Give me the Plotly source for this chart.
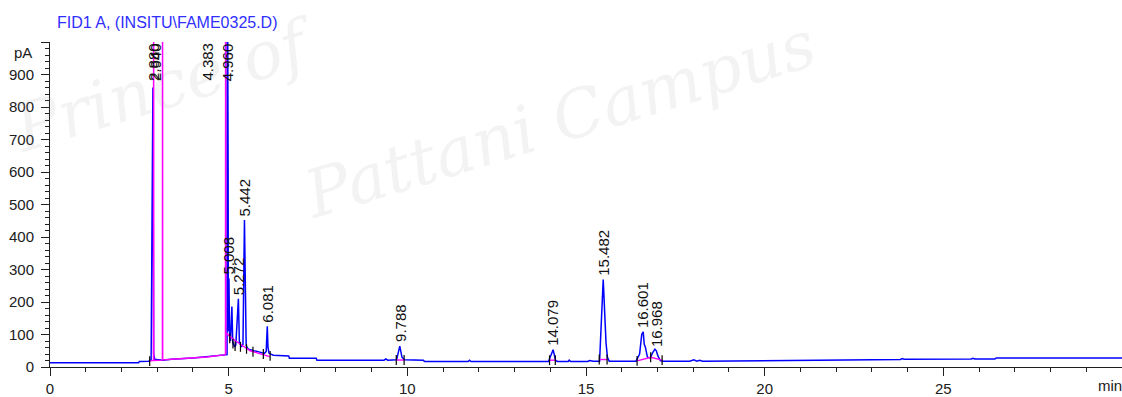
import plotly.graph_objects as go

# ---- FID signal (time in min, response in pA) ----
sig_t = [0.00, 2.48, 2.50, 2.76, 2.83, 2.88, 2.90, 2.93, 3.15, 3.40, 4.00, 4.50, 4.90,
         4.955, 4.96, 4.965, 4.985, 4.99, 5.008, 5.025, 5.05, 5.09, 5.115, 5.17, 5.20,
         5.272, 5.30, 5.36, 5.40, 5.442, 5.465, 5.49, 5.55, 5.62, 5.70, 5.80, 5.92,
         6.00, 6.05, 6.081, 6.10, 6.13, 6.25, 6.40, 6.68, 6.70, 7.45, 7.47, 9.35, 9.40,
         9.45, 9.70, 9.788, 9.85, 9.92, 10.45, 10.48, 11.70, 11.74, 11.78, 13.95, 14.079,
         14.15, 14.20, 14.50, 14.53, 14.57, 15.05, 15.10, 15.20, 15.38, 15.482, 15.53,
         15.56, 15.60, 15.65, 16.40, 16.50, 16.56, 16.601, 16.63, 16.66, 16.72, 16.80,
         16.87, 16.93, 16.968, 17.01, 17.08, 17.15, 17.90, 18.02, 18.10, 18.18, 18.26,
         20.00, 21.00, 23.80, 23.85, 23.90, 25.78, 25.83, 25.88, 26.44, 26.48, 30.00]
sig_pa = [13, 13, 17, 18, 22, 860, 40, 24, 21, 24, 28, 33, 38,
          38, 1500, 620, 600, 110, 272, 95, 80, 186, 75, 62, 68,
          210, 75, 62, 70, 452, 140, 65, 55, 52, 50, 48, 45,
          42, 48, 125, 60, 42, 36, 35, 34, 27, 27, 21, 21, 25,
          21, 22, 64, 30, 22, 21, 17, 17, 21, 17, 17, 53,
          20, 17, 17, 21, 17, 17, 20, 18, 18, 269, 110,
          75, 30, 18, 18, 40, 100, 108, 70, 62, 30, 28,
          45, 55, 50, 35, 20, 18, 18, 22, 18, 21, 18,
          20, 21, 23, 26, 24, 24.5, 27, 24.5, 24.5, 27.5, 27.5]

# ---- integration baselines (segments separated by None) ----
base_t = [2.77, 2.895, 2.90, 2.905, 3.145, 3.15, 3.155, 3.40, 3.90, 4.40, 4.91, 4.915, 4.92,
          None, 4.92, 5.00, 5.10, 5.20, 5.30, 5.40, 5.50, 5.60, 5.75, 5.90, 6.00, 6.15,
          None, 9.69, 9.91,
          None, 13.98, 14.14,
          None, 15.37, 15.59,
          None, 16.43, 16.81, 17.13]
base_pa = [18, 20, 1500, 20, 21, 1500, 22, 24, 27, 31, 38, 1500, 43,
           None, 105, 96, 88, 80, 72, 64, 56, 50, 45, 40, 37, 32,
           None, 21.5, 21.5,
           None, 21, 21,
           None, 23, 23,
           None, 19, 30, 21]

# ---- peak start / end marks ----
mark_t = [2.79, 5.03, 5.12, 5.18, 5.33, 5.50, 5.68, 5.97, 6.16,
          9.69, 9.91, 13.98, 14.14, 15.37, 15.59, 16.43, 16.81, 17.13]
mark_pa = [18, 88, 72, 64, 62, 56, 47, 40, 34,
           21.5, 21.5, 21, 21, 23, 23, 19, 30, 21]

# ---- retention time labels ----
rt_labels = ["2.880", "2.940", "4.383", "4.960", "5.008", "5.272", "5.442",
             "6.081", "9.788", "14.079", "15.482", "16.601", "16.968"]
rt_apex = [None, None, None, None, 272, 210, 452, 125, 64, 53, 269, 108, 50]

x_ticks = [0, 5, 10, 15, 20, 25]
y_ticks = [0, 100, 200, 300, 400, 500, 600, 700, 800, 900, 1000]
y_ticktext = ["0", "100", "200", "300", "400", "500", "600", "700", "800", "900", ""]

FONT = "Liberation Sans, Arial, sans-serif"
Y_TOP = 1000

fig = go.Figure()

fig.add_trace(go.Scatter(x=sig_t, y=sig_pa, mode="lines",
                         line=dict(color="#0000ff", width=1.5), hoverinfo="skip"))
fig.add_trace(go.Scatter(x=base_t, y=base_pa, mode="lines", connectgaps=False,
                         line=dict(color="#ff00ff", width=1.4), hoverinfo="skip"))
fig.add_trace(go.Scatter(x=mark_t, y=mark_pa, mode="markers",
                         marker=dict(symbol="line-ns", size=7,
                                     line=dict(color="black", width=1.2)),
                         hoverinfo="skip"))

# watermark (faint, behind the labels)
for txt, px, py in [("Prince of", 0.107, 0.865), ("Pattani Campus", 0.476, 0.761)]:
    fig.add_annotation(xref="paper", yref="paper", x=px, y=py, text=txt, showarrow=False,
                       textangle=-17, xanchor="center", yanchor="middle",
                       font=dict(family="DejaVu Serif", size=66, style="italic",
                                 color="rgba(150,150,150,0.11)"))

# retention time annotations, rotated to read upward
for lab, apex in zip(rt_labels, rt_apex):
    rt = float(lab)
    if apex is None:
        fig.add_annotation(x=rt, y=Y_TOP, text=lab, textangle=-90, showarrow=False,
                           xanchor="center", yanchor="top", borderpad=0,
                           font=dict(family=FONT, size=15, color="#111111"))
    else:
        fig.add_annotation(x=rt, y=apex, text=lab, textangle=-90, showarrow=False,
                           xanchor="center", yanchor="bottom", yshift=3, borderpad=0,
                           font=dict(family=FONT, size=15, color="#111111"))

# signal title
fig.add_annotation(xref="paper", yref="paper", x=0.005, y=1.061, text="FID1 A, (INSITU\\FAME0325.D)",
                   showarrow=False, xanchor="left", yanchor="middle",
                   font=dict(family=FONT, size=16, color="#2f2fff"))
# unit labels
fig.add_annotation(xref="paper", y=969, x=-0.015, text="pA", showarrow=False,
                   xanchor="right", yanchor="middle",
                   font=dict(family=FONT, size=15, color="#202020"))
fig.add_annotation(x=29.28, yref="paper", y=-0.058, text="min", showarrow=False,
                   xanchor="left", yanchor="middle",
                   font=dict(family=FONT, size=15, color="#202020"))

fig.update_layout(
    width=1122, height=397,
    margin=dict(l=50, r=0, t=42, b=28),
    paper_bgcolor="white", plot_bgcolor="white",
    showlegend=False,
    font=dict(family=FONT, size=15, color="#202020"),
)
fig.update_xaxes(range=[0, 30], tickvals=x_ticks, showgrid=False, zeroline=False,
                 showline=True, linecolor="#202020", linewidth=1,
                 ticks="outside", ticklen=8, tickcolor="#202020",
                 minor=dict(dtick=1, ticks="outside", ticklen=4, tickcolor="#202020"))
fig.update_yaxes(range=[0, Y_TOP], tickvals=y_ticks, ticktext=y_ticktext,
                 showgrid=False, zeroline=False, ticklabelstandoff=4,
                 showline=True, linecolor="#202020", linewidth=1,
                 ticks="outside", ticklen=8, tickcolor="#202020",
                 minor=dict(dtick=20, ticks="outside", ticklen=4, tickcolor="#202020"))

fig.write_html("out.html")
